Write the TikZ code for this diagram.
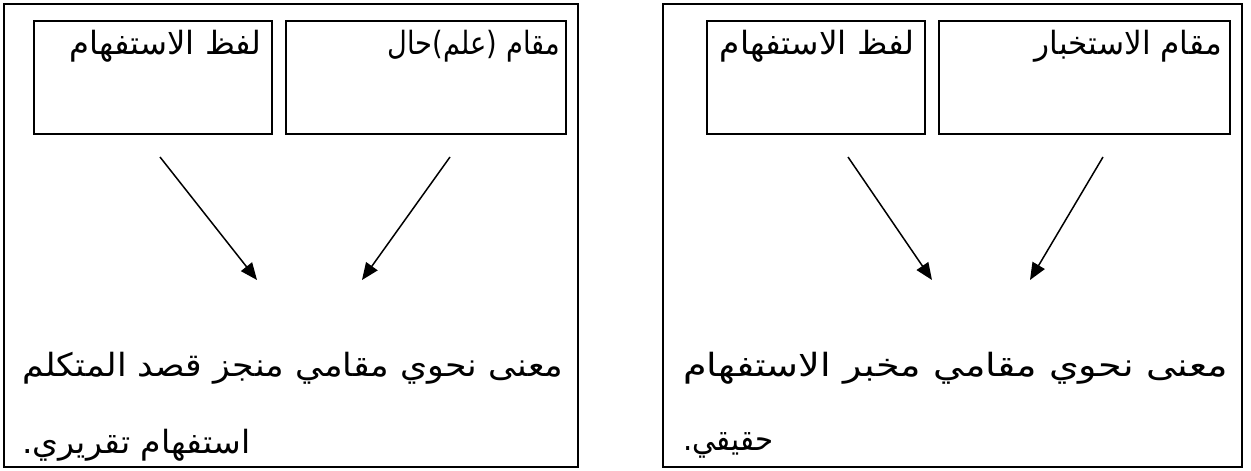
\documentclass[tikz,border=0pt]{standalone}
\usepackage{fontspec}
\usepackage{graphicx}
\newfontfamily\arabicfont[Script=Arabic]{DejaVu Sans}
\TeXXeTstate=1
\usetikzlibrary{arrows.meta,positioning}
\newcommand\fitar[2]{\resizebox{#1}{\height}{\arabicfont\fontsize{32}{38}\selectfont #2}}

\begin{document}
\begin{tikzpicture}[x=1pt,y=-1pt,>={Triangle[length=17pt,width=14pt]},line join=miter]
\path[fill=white] (0,0) rectangle (1251,471);
\tikzset{frame/.style={draw=black,line width=2.4pt},box/.style={draw=black,line width=1.6pt,minimum height=113pt,anchor=north west,inner sep=0pt},word/.style={inner sep=0pt},link/.style={draw=black,line width=1.5pt,->}}
\draw[frame] (4,4) rectangle (578,467);
\draw[frame] (663,4) rectangle (1242,467);
\node[box,minimum width=238pt] (lafzL) at (33,20) {};
\node[box,minimum width=280pt] (maqamL) at (285,20) {};
\node[box,minimum width=218pt] (lafzR) at (706,20) {};
\node[box,minimum width=291pt] (maqamR) at (938,20) {};
\node[word,anchor=east] (lafzLtxt) at (262,46) {\fitar{192pt}{\beginR لفظ الاستفهام\endR}};
\node[word,anchor=east] (maqamLtxt) at (560,46) {\fitar{172pt}{\beginR مقام (علم)حال\endR}};
\node[word,anchor=east] (lafzRtxt) at (915,46) {\fitar{195pt}{\beginR لفظ الاستفهام\endR}};
\node[word,anchor=east] (maqamRtxt) at (1222,46) {\fitar{187pt}{\beginR مقام الاستخبار\endR}};
\coordinate (aL1) at (160,157); \coordinate (bL1) at (257,280);
\coordinate (aL2) at (450,157); \coordinate (bL2) at (362,280);
\coordinate (aR1) at (848,157); \coordinate (bR1) at (932,280);
\coordinate (aR2) at (1103,157); \coordinate (bR2) at (1030,280);
\draw[link] (aL1) -- (bL1); \draw[link] (aL2) -- (bL2);
\draw[link] (aR1) -- (bR1); \draw[link] (aR2) -- (bR2);
\node[word,anchor=west] (maanaL) at (22,368) {\fitar{541pt}{\beginR معنى نحوي مقامي منجز قصد المتكلم\endR}};
\node[word,anchor=west] (naweL) at (22,445) {\fitar{228pt}{\beginR استفهام تقريري.\endR}};
\node[word,anchor=west] (maanaR) at (683,368) {\fitar{545pt}{\beginR معنى نحوي مقامي مخبر الاستفهام\endR}};
\node[word,anchor=west] (naweR) at (683,445) {\fitar{90pt}{\beginR حقيقي.\endR}};
\end{tikzpicture}
\end{document}
